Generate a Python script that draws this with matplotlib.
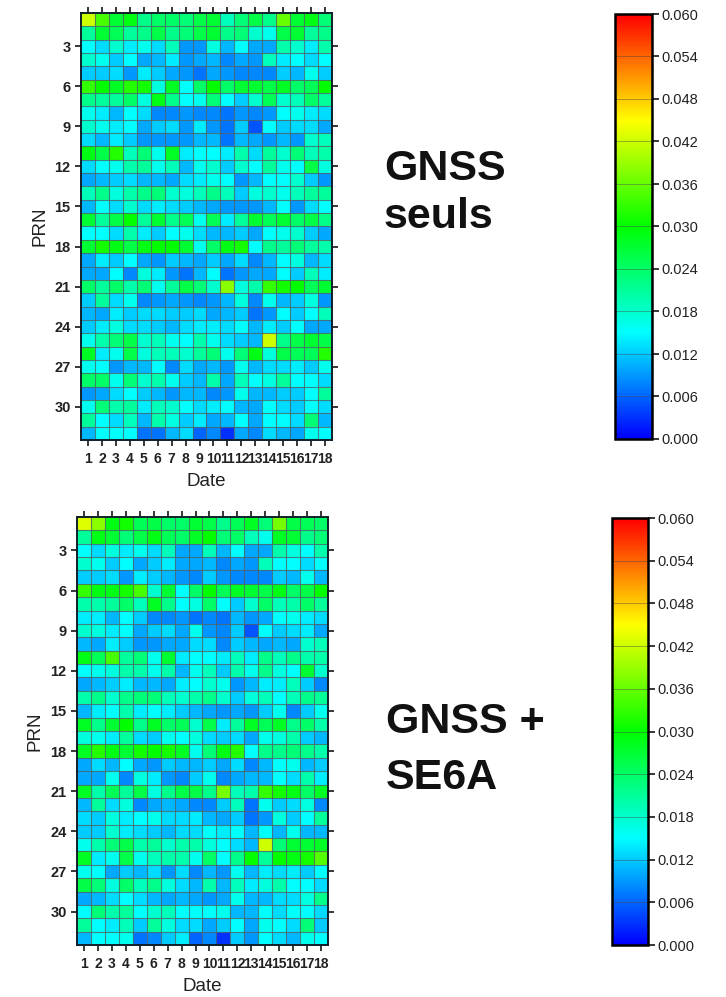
import matplotlib

matplotlib.use("Agg")
import matplotlib.pyplot as plt
import numpy as np
from matplotlib.colors import LinearSegmentedColormap

W, H = 726, 997

# daily values per PRN, in 1e-3 units
GNSS_SEULS = [
    [42, 34, 27, 29, 22, 24, 24, 23, 26, 27, 19, 23, 26, 22, 36, 27, 29, 23],
    [21, 27, 25, 21, 22, 26, 22, 23, 26, 27, 22, 23, 18, 16, 26, 27, 21, 22],
    [15, 13, 18, 14, 16, 13, 19, 9, 9, 17, 11, 15, 10, 10, 20, 18, 14, 20],
    [18, 16, 12, 15, 10, 11, 14, 9, 10, 11, 8, 10, 9, 19, 14, 15, 13, 15],
    [12, 12, 13, 9, 14, 12, 10, 9, 7, 10, 9, 8, 8, 8, 12, 11, 16, 12],
    [33, 30, 28, 32, 31, 17, 28, 15, 24, 30, 24, 27, 27, 26, 28, 24, 25, 30],
    [22, 21, 21, 24, 17, 29, 22, 15, 16, 23, 15, 12, 18, 25, 18, 19, 24, 21],
    [16, 14, 11, 15, 13, 8, 8, 9, 8, 8, 7, 9, 8, 9, 15, 16, 14, 13],
    [18, 16, 14, 15, 10, 12, 13, 9, 14, 9, 7, 12, 5, 15, 12, 13, 13, 10],
    [13, 11, 14, 12, 9, 9, 9, 9, 11, 11, 7, 11, 10, 9, 11, 9, 18, 19],
    [29, 26, 32, 19, 23, 16, 28, 14, 15, 15, 14, 20, 13, 21, 18, 23, 19, 20],
    [13, 15, 16, 20, 21, 16, 19, 11, 16, 18, 12, 18, 15, 21, 16, 15, 26, 17],
    [10, 11, 12, 13, 11, 11, 10, 13, 14, 16, 15, 9, 11, 15, 15, 18, 12, 9],
    [19, 22, 17, 20, 22, 23, 18, 17, 19, 22, 19, 12, 17, 18, 16, 19, 21, 21],
    [11, 15, 13, 18, 13, 14, 13, 12, 11, 10, 9, 9, 9, 11, 15, 9, 13, 15],
    [27, 21, 26, 30, 21, 27, 22, 25, 16, 25, 14, 21, 27, 25, 27, 24, 26, 22],
    [15, 15, 13, 20, 14, 12, 15, 16, 13, 11, 11, 12, 10, 15, 16, 18, 12, 10],
    [27, 31, 29, 26, 29, 30, 30, 27, 16, 24, 29, 31, 15, 22, 21, 23, 21, 20],
    [10, 14, 12, 15, 10, 9, 12, 11, 10, 12, 10, 13, 8, 11, 15, 17, 11, 13],
    [10, 10, 15, 8, 17, 14, 9, 7, 11, 15, 7, 9, 10, 10, 15, 12, 19, 14],
    [24, 21, 24, 20, 23, 16, 21, 26, 23, 18, 38, 17, 20, 33, 31, 30, 25, 27],
    [12, 21, 13, 16, 8, 9, 10, 9, 8, 9, 11, 17, 8, 16, 11, 12, 17, 9],
    [11, 10, 14, 12, 13, 13, 12, 12, 13, 10, 11, 12, 7, 9, 15, 12, 15, 19],
    [12, 14, 17, 13, 13, 12, 11, 13, 14, 14, 13, 15, 11, 14, 12, 15, 10, 10],
    [16, 20, 23, 26, 18, 19, 16, 15, 20, 16, 13, 12, 11, 42, 22, 26, 27, 26],
    [28, 14, 16, 26, 17, 19, 19, 18, 21, 23, 16, 23, 29, 17, 26, 25, 25, 32],
    [16, 15, 9, 11, 11, 15, 8, 13, 10, 11, 9, 16, 11, 13, 13, 14, 12, 16],
    [24, 24, 16, 23, 18, 20, 16, 12, 11, 20, 10, 19, 15, 17, 21, 15, 15, 13],
    [9, 10, 13, 15, 12, 11, 9, 11, 11, 8, 9, 16, 11, 11, 12, 12, 15, 21],
    [16, 23, 20, 21, 14, 19, 18, 15, 13, 14, 15, 11, 10, 15, 13, 12, 15, 13],
    [21, 15, 13, 19, 11, 20, 17, 12, 14, 10, 11, 15, 10, 15, 15, 13, 23, 11],
    [11, 15, 15, 15, 7, 7, 11, 13, 6, 8, 3, 10, 8, 13, 11, 10, 16, 15],
]
GNSS_SE6A = [
    [43, 38, 29, 31, 25, 26, 24, 24, 27, 26, 22, 25, 28, 23, 37, 26, 25, 24],
    [21, 29, 27, 23, 26, 29, 25, 24, 28, 30, 23, 24, 19, 16, 28, 27, 22, 23],
    [15, 13, 17, 14, 16, 13, 19, 10, 10, 19, 11, 15, 10, 10, 20, 17, 15, 20],
    [18, 16, 12, 15, 10, 12, 14, 10, 10, 11, 8, 10, 9, 19, 15, 15, 13, 15],
    [12, 12, 13, 9, 14, 12, 11, 9, 8, 12, 9, 8, 8, 8, 12, 11, 16, 11],
    [33, 29, 29, 31, 34, 18, 27, 15, 24, 30, 25, 28, 27, 26, 29, 24, 26, 30],
    [20, 20, 21, 24, 19, 28, 22, 15, 17, 24, 15, 12, 18, 24, 19, 20, 24, 21],
    [14, 14, 11, 15, 12, 8, 8, 9, 7, 8, 7, 11, 9, 10, 15, 16, 14, 13],
    [18, 17, 14, 15, 10, 12, 13, 10, 16, 9, 8, 12, 5, 15, 12, 13, 14, 10],
    [11, 10, 14, 12, 9, 9, 10, 10, 13, 13, 8, 12, 11, 10, 11, 10, 18, 19],
    [29, 25, 34, 21, 23, 16, 27, 14, 15, 15, 14, 19, 14, 22, 19, 22, 20, 20],
    [15, 16, 17, 20, 20, 16, 20, 11, 16, 19, 12, 20, 16, 22, 17, 15, 27, 18],
    [10, 11, 12, 14, 11, 11, 10, 14, 15, 18, 16, 9, 11, 14, 14, 19, 12, 8],
    [20, 22, 18, 22, 23, 23, 19, 18, 20, 22, 18, 12, 17, 19, 15, 19, 22, 21],
    [11, 14, 15, 20, 14, 15, 14, 12, 11, 10, 9, 10, 9, 12, 16, 8, 12, 16],
    [28, 22, 27, 30, 22, 28, 24, 25, 18, 26, 14, 21, 28, 25, 28, 22, 24, 20],
    [17, 16, 14, 21, 13, 12, 16, 15, 17, 13, 12, 13, 10, 16, 17, 20, 12, 11],
    [28, 32, 29, 27, 31, 30, 31, 28, 16, 23, 29, 32, 15, 22, 22, 23, 22, 20],
    [10, 13, 11, 15, 10, 9, 12, 11, 11, 12, 10, 13, 8, 11, 15, 16, 11, 12],
    [10, 10, 16, 8, 17, 14, 9, 8, 12, 16, 8, 10, 11, 11, 15, 13, 20, 14],
    [28, 20, 25, 21, 26, 17, 22, 26, 26, 22, 37, 19, 20, 33, 31, 29, 24, 28],
    [11, 21, 13, 17, 8, 10, 11, 10, 8, 8, 12, 19, 7, 16, 12, 13, 17, 8],
    [13, 12, 17, 14, 15, 16, 13, 13, 14, 11, 10, 12, 7, 9, 17, 12, 15, 21],
    [12, 12, 18, 14, 13, 12, 11, 13, 13, 15, 14, 15, 11, 15, 11, 16, 11, 11],
    [16, 20, 23, 26, 20, 21, 18, 20, 20, 17, 15, 13, 11, 42, 23, 27, 27, 28],
    [28, 14, 16, 26, 16, 19, 20, 20, 16, 24, 15, 22, 30, 21, 30, 29, 31, 35],
    [16, 15, 10, 12, 11, 13, 9, 13, 8, 11, 9, 16, 11, 14, 13, 14, 12, 15],
    [26, 23, 17, 24, 19, 22, 17, 13, 11, 20, 11, 19, 14, 17, 20, 15, 15, 13],
    [10, 11, 13, 15, 13, 11, 10, 11, 10, 9, 10, 16, 11, 11, 13, 13, 17, 22],
    [15, 23, 20, 21, 15, 18, 19, 15, 15, 15, 16, 11, 11, 15, 13, 15, 15, 13],
    [21, 15, 14, 19, 12, 21, 17, 13, 13, 10, 12, 15, 10, 16, 15, 13, 23, 12],
    [11, 15, 15, 16, 7, 8, 12, 14, 6, 8, 3, 12, 9, 15, 13, 11, 16, 15],
]
PRN_TICKS = [3, 6, 9, 12, 15, 18, 21, 24, 27, 30]
DATE_TICKS = list(range(1, 19))
BAR_TICKS = [0.000, 0.006, 0.012, 0.018, 0.024, 0.030, 0.036, 0.042, 0.048, 0.054, 0.060]

plt.rcParams["font.family"] = ["Liberation Sans", "DejaVu Sans"]

rainbow = LinearSegmentedColormap.from_list(
    "rainbow_gmt", ["#0000ff", "#00ffff", "#00ff00", "#ffff00", "#ff0000"], N=256
)


def add_box(fig, left, top, right, bottom):
    return fig.add_axes([left / W, 1 - bottom / H, (right - left) / W, (bottom - top) / H])


def draw_panel(fig, values, box, ylabel_pad):
    ax = add_box(fig, *box)
    data = np.array(values) / 1000
    x_edges = np.arange(0.5, 19.5)
    y_edges = np.arange(0.5, 33.5)
    mesh = ax.pcolormesh(x_edges, y_edges, data, cmap=rainbow, vmin=0, vmax=0.06)
    ax.set_xlim(0.5, 18.5)
    ax.set_ylim(32.5, 0.5)
    ax.set_xticks(DATE_TICKS)
    ax.set_yticks(PRN_TICKS)
    # cell borders go on minor ticks so every line gets the same weight
    ax.set_xticks(x_edges[1:-1], minor=True)
    ax.set_yticks(y_edges[1:-1], minor=True)
    ax.grid(which="minor", color="#4f6468", linewidth=0.8, alpha=0.8)
    ax.tick_params(which="minor", length=0)
    ax.tick_params(axis="x", top=True, bottom=True, length=4.5, width=1.1, labelsize=10, pad=4)
    ax.tick_params(axis="y", left=True, right=True, length=4.5, width=1.1, labelsize=10.5, pad=3)
    for label in ax.get_xticklabels() + ax.get_yticklabels():
        label.set_fontweight("bold")
        label.set_color("#222222")
    ax.set_xlabel("Date", fontsize=13.5, labelpad=5, color="#222222")
    ax.set_ylabel("PRN", fontsize=13.5, labelpad=ylabel_pad, color="#222222")
    for spine in ax.spines.values():
        spine.set_linewidth(1.4)
        spine.set_color("#10202a")
    return mesh


def draw_bar(fig, mesh, box):
    cax = add_box(fig, *box)
    bar = fig.colorbar(mesh, cax=cax, ticks=BAR_TICKS)
    bar.ax.tick_params(length=5, width=1.1, labelsize=10.5, pad=2)
    bar.ax.set_yticklabels([f"{t:.3f}" for t in BAR_TICKS], color="#222222")
    bar.outline.set_linewidth(1.8)
    for t in BAR_TICKS[1:-1]:
        bar.ax.axhline(t, color="#444444", linewidth=0.6, alpha=0.5)


def main():
    fig = plt.figure(figsize=(W / 100, H / 100), dpi=100)

    mesh_top = draw_panel(fig, GNSS_SEULS, (81, 13, 332, 440), 4)
    mesh_low = draw_panel(fig, GNSS_SE6A, (77, 517, 328, 945), 5)
    draw_bar(fig, mesh_top, (615, 14, 652, 439))
    draw_bar(fig, mesh_low, (612, 518, 648, 945))

    fig.text(384 / W, 1 - 193 / H, "GNSS\nseuls", fontsize=31, fontweight="bold",
             va="center", ha="left", linespacing=1.25, color="#111111")
    fig.text(386 / W, 1 - 750 / H, "GNSS +\nSE6A", fontsize=31, fontweight="bold",
             va="center", ha="left", linespacing=1.5, color="#111111")

    fig.savefig("out.png", dpi=100)
    plt.close(fig)


if __name__ == "__main__":
    main()
